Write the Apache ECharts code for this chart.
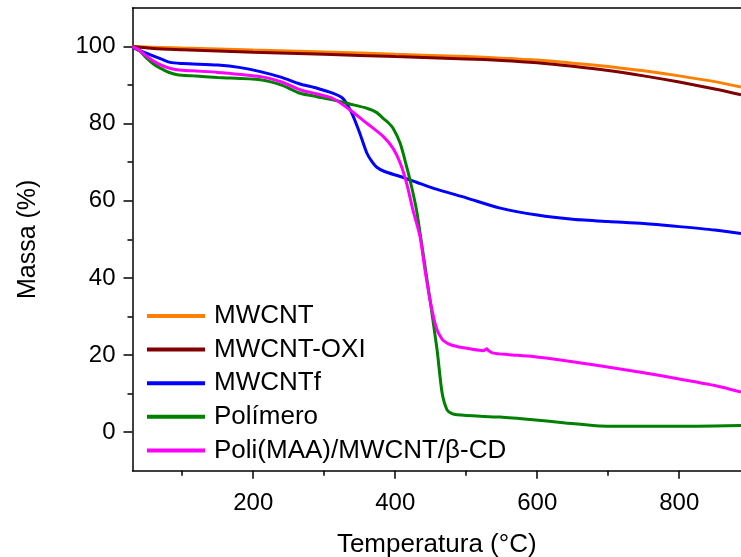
<!DOCTYPE html>
<html>
<head>
<meta charset="utf-8">
<script src="https://cdn.jsdelivr.net/npm/echarts@6/dist/echarts.min.js"></script>
<style>html,body{margin:0;padding:0;background:#fff}#c{width:741px;height:557px}</style>
</head>
<body>
<div id="c"></div>
<script>
const seriesNames = ['MWCNT', 'MWCNT-OXI', 'MWCNTf', 'Polímero', 'Poli(MAA)/MWCNT/β-CD'];
const xMajorTicks = [200, 400, 600, 800];
const xMinorTicks = [100, 300, 500, 700];
const yMajorTicks = [0, 20, 40, 60, 80, 100];
const yMinorTicks = [10, 30, 50, 70, 90];

const tMWCNT = [30, 100, 200, 300, 400, 500, 550, 600, 650, 700, 750, 800, 850, 887];
const vMWCNT = [100, 99.6, 99.1, 98.6, 98.0, 97.4, 97.0, 96.5, 95.7, 94.8, 93.7, 92.4, 90.9, 89.5];

const tOXI = [30, 60, 100, 200, 300, 400, 500, 550, 600, 650, 700, 750, 800, 850, 887];
const vOXI = [100, 99.5, 99.2, 98.5, 98.0, 97.4, 96.8, 96.4, 95.8, 94.9, 93.8, 92.4, 90.8, 89.0, 87.5];

const tF = [30, 36, 45, 59, 70, 83, 100, 115, 150, 180, 210, 240, 266, 290, 312, 326, 333, 340, 350, 360, 367, 374, 385, 407, 430, 453, 501, 548, 600, 650, 700, 750, 800, 850, 887];
const vF = [99.8, 99.3, 98.6, 97.6, 96.8, 95.9, 95.6, 95.5, 95.2, 94.6, 93.5, 92.0, 90.3, 89.2, 87.9, 86.6, 84.8, 82.3, 77.6, 72.4, 70.2, 68.7, 67.6, 66.3, 64.8, 63.3, 60.7, 58.1, 56.3, 55.2, 54.6, 54.1, 53.3, 52.4, 51.5];

const tPol = [30, 40, 50, 60, 69, 80, 93, 115, 150, 210, 240, 266, 290, 312, 336, 360, 373, 383, 390, 397, 407, 416, 423, 430, 435, 442, 449, 459, 466, 473, 480, 487, 520, 548, 594, 640, 688, 750, 800, 850, 887];
const vPol = [100, 98.9, 97.0, 95.4, 94.4, 93.4, 92.7, 92.4, 92.0, 91.4, 90.0, 87.9, 87.0, 86.2, 85.1, 84.0, 83.0, 81.4, 80.3, 78.8, 74.9, 68.9, 63.7, 57.6, 51.6, 43.0, 34.3, 21.3, 10.2, 5.8, 4.8, 4.5, 4.1, 3.9, 3.2, 2.4, 1.6, 1.5, 1.5, 1.6, 1.7];

const tComp = [30, 40, 50, 60, 69, 80, 93, 115, 150, 210, 240, 266, 290, 312, 336, 360, 383, 397, 407, 416, 425, 435, 442, 449, 455, 459, 463, 467, 475, 487, 505, 524, 527, 529, 531, 538, 560, 594, 640, 688, 750, 800, 850, 887];
const vComp = [100, 99.0, 97.5, 96.2, 95.3, 94.5, 94.0, 93.7, 93.3, 92.2, 90.8, 88.8, 87.7, 86.6, 83.6, 80.1, 76.7, 73.6, 69.8, 64.6, 57.6, 50.7, 42.0, 34.3, 29.0, 26.5, 25.0, 23.9, 22.9, 22.2, 21.6, 21.1, 21.4, 21.6, 21.2, 20.5, 20.1, 19.6, 18.5, 17.2, 15.4, 13.8, 12.1, 10.4];

const colors = ['#FF8000', '#800000', '#0000FF', '#008000', '#FF00FF'];
const temps = [tMWCNT, tOXI, tF, tPol, tComp];
const vals = [vMWCNT, vOXI, vF, vPol, vComp];

const FONT = 'Liberation Sans, Arial, sans-serif';
const xMin = 30, xMax = 887, yMin = -10, yMax = 110;

const chart = echarts.init(document.getElementById('c'), null, {renderer: 'canvas'});
const axisLineStyle = {color: '#000', width: 1.5};

const option = {
  animation: false,
  backgroundColor: '#fff',
  grid: {left: 132.5, top: 8, right: 0, bottom: 86.3, containLabel: false, outerBoundsMode: 'none'},
  legend: {
    orient: 'vertical',
    left: 147,
    top: 303,
    padding: 0,
    itemWidth: 58,
    itemHeight: 4,
    itemGap: 7.6,
    icon: 'rect',
    textStyle: {fontFamily: FONT, fontSize: 26, color: '#000', lineHeight: 26, padding: [0, 0, 0, 4]},
    data: seriesNames
  },
  xAxis: [
    {
      type: 'value', min: xMin, max: xMax, position: 'bottom',
      axisLine: {show: true, onZero: false, lineStyle: axisLineStyle},
      axisTick: {show: true, length: 8, lineStyle: axisLineStyle, customValues: xMajorTicks},
      axisLabel: {show: true, margin: 21, fontFamily: FONT, fontSize: 24, color: '#000', customValues: xMajorTicks},
      splitLine: {show: false},
      name: 'Temperatura (°C)', nameLocation: 'middle', nameGap: 61,
      nameTextStyle: {fontFamily: FONT, fontSize: 26, color: '#000'}
    },
    {
      type: 'value', min: xMin, max: xMax, position: 'bottom',
      axisLine: {show: false, onZero: false},
      axisTick: {show: true, length: 5, lineStyle: axisLineStyle, customValues: xMinorTicks},
      axisLabel: {show: false},
      splitLine: {show: false}
    },
    {
      type: 'value', min: xMin, max: xMax, position: 'top',
      axisLine: {show: true, onZero: false, lineStyle: axisLineStyle},
      axisTick: {show: false}, axisLabel: {show: false}, splitLine: {show: false}
    }
  ],
  yAxis: [
    {
      type: 'value', min: yMin, max: yMax, position: 'left',
      axisLine: {show: true, onZero: false, lineStyle: axisLineStyle},
      axisTick: {show: true, length: 9, lineStyle: axisLineStyle, customValues: yMajorTicks},
      axisLabel: {show: true, margin: 17, fontFamily: FONT, fontSize: 24, color: '#000', customValues: yMajorTicks},
      splitLine: {show: false},
      name: 'Massa (%)', nameLocation: 'middle', nameGap: 92, nameRotate: 90,
      nameTextStyle: {fontFamily: FONT, fontSize: 25, color: '#000'}
    },
    {
      type: 'value', min: yMin, max: yMax, position: 'left',
      axisLine: {show: false, onZero: false},
      axisTick: {show: true, length: 5, lineStyle: axisLineStyle, customValues: yMinorTicks},
      axisLabel: {show: false}, splitLine: {show: false}
    }
  ],
  series: seriesNames.map((n, i) => ({
    name: n,
    type: 'line',
    xAxisIndex: 0,
    yAxisIndex: 0,
    data: temps[i].map((t, j) => [t, vals[i][j]]),
    showSymbol: false,
    symbol: 'none',
    smooth: 0.25,
    clip: true,
    lineStyle: {color: colors[i], width: 3},
    itemStyle: {color: colors[i]},
    z: 2 + i
  }))
};
chart.setOption(option);
</script>
</body>
</html>
